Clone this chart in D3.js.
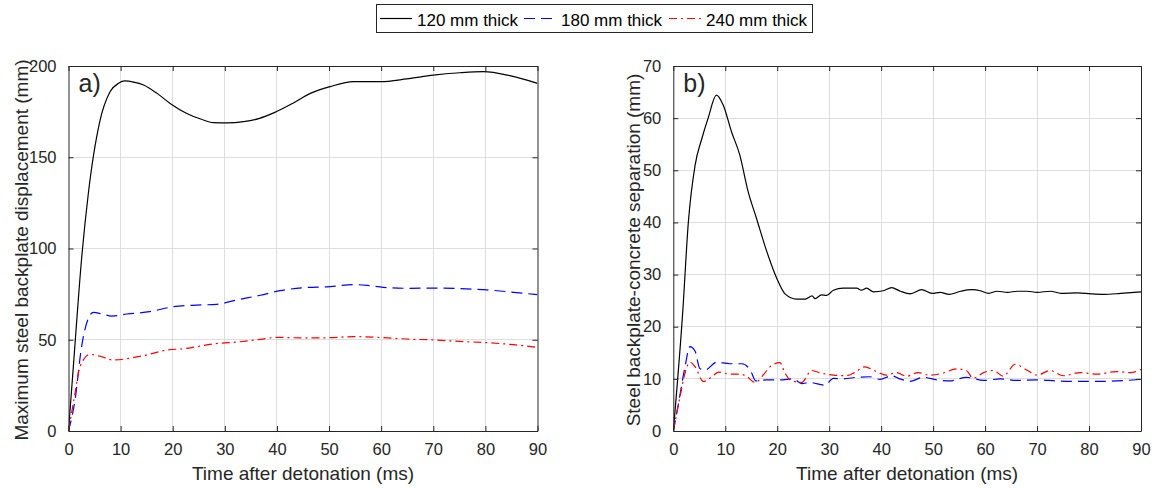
<!DOCTYPE html>
<html>
<head>
<meta charset="utf-8">
<script src="https://cdn.jsdelivr.net/npm/d3@7"></script>
<style>
  html, body { margin: 0; padding: 0; background: #fff; }
  svg { display: block; font-family: "Liberation Sans", Arial, Helvetica, sans-serif; }
</style>
</head>
<body>
<svg id="chart" width="1156" height="489"></svg>
<script>
// ---------- DATA ----------
const seriesNames = ["120 mm thick", "180 mm thick", "240 mm thick"];
const xTicks = [0, 10, 20, 30, 40, 50, 60, 70, 80, 90];
const yTicksA = [0, 50, 100, 150, 200];
const yTicksB = [0, 10, 20, 30, 40, 50, 60, 70];

// Panel a) maximum steel backplate displacement (mm)
const aTime120 = [0, 1, 2.5, 3.8, 6, 8, 9.6, 10.8, 12.5, 14.4, 17, 19.5, 22.7, 25.5, 27.8, 30.5, 33.6, 36.5, 39.6, 43, 46.4, 50.2, 54.7, 59.8, 64.9, 70, 75.1, 79.6, 84.7, 90];
const aDisp120 = [0, 38, 94, 130, 169.5, 186, 190.5, 191.8, 191.2, 189.6, 185, 179.5, 174, 170.8, 169, 168.8, 169.5, 171.2, 174.6, 179.5, 185, 188.7, 191.4, 191.4, 192.9, 195, 196.3, 196.9, 194.7, 190.5];
const aTime180 = [0, 1.25, 2.5, 3.8, 4.8, 6.5, 8.3, 11.2, 15.6, 20.1, 24.6, 28.4, 32.3, 36.8, 40.6, 45.1, 50.2, 54.7, 57.3, 60.4, 65.5, 70.6, 75.1, 80.3, 85.4, 90];
const aDisp180 = [0, 17, 46, 61.7, 65, 64, 63, 64.1, 65.4, 68.1, 69, 69.4, 71.8, 74.4, 76.9, 78.5, 79.1, 80.2, 79.8, 78.7, 78.2, 78.3, 78, 77.3, 76, 74.7];
const aTime240 = [0, 1.25, 2.2, 4.1, 6, 8.6, 12.4, 14.9, 18.2, 22.7, 27.8, 32.9, 36.8, 40, 45.1, 49.6, 54.7, 59.2, 64.9, 70, 75.1, 80.3, 85.4, 90];
const aDisp240 = [0, 20.6, 35.2, 42, 41, 38.9, 40.2, 41.6, 44, 45.3, 47.7, 48.9, 50.2, 51.3, 51, 51.1, 51.7, 51.3, 50.4, 49.9, 49.1, 48.4, 47.3, 45.8];

// Panel b) steel backplate-concrete separation (mm)
const bTime120 = [0, 1.8, 2.9, 4.2, 5.5, 6.7, 8.3, 9.6, 11.2, 12.8, 14.4, 16, 18, 19.9, 21.5, 23.7, 25.4, 26.7, 27.3, 28.5, 29.5, 30.8, 32.7, 35.3, 36.2, 37.2, 38.5, 40.4, 42, 43.7, 45.6, 47.8, 49.8, 51.4, 53, 55.3, 57.5, 59.1, 60.7, 62.3, 64.3, 66.2, 68.1, 70, 72.6, 74.6, 77.8, 80.4, 82.9, 86.1, 90];
const bSep120 = [0, 22.6, 40.1, 51, 56.1, 60, 64.4, 62.5, 57.4, 52.9, 45.9, 40.8, 34.4, 29.3, 26.3, 25.3, 25.3, 25.9, 25.4, 26.1, 26, 27, 27.4, 27.4, 27, 27.4, 26.7, 26.9, 27.5, 26.8, 26.3, 27.1, 26.4, 26.6, 26.2, 26.8, 27.1, 26.9, 26.4, 26.8, 26.6, 26.8, 26.8, 26.6, 26.8, 26.4, 26.5, 26.3, 26.2, 26.4, 26.7];
const bTime180 = [0, 1, 2.25, 3.2, 4.2, 5.1, 6.1, 8.35, 10.9, 13.2, 14.8, 15.9, 18, 20.5, 23.1, 24.7, 26.3, 29.2, 30.8, 32.7, 35.3, 37.8, 39.8, 42, 43.6, 45.5, 48.1, 50.7, 53.2, 56.4, 59.7, 62.9, 66.1, 69.9, 73.8, 77.6, 81.5, 85.3, 90];
const bSep180 = [0, 5.3, 12.3, 16.2, 15.3, 12, 11.7, 13.2, 12.9, 12.9, 11.7, 9.6, 9.8, 9.8, 10, 9.1, 9.3, 8.8, 10.1, 10, 10.3, 10.4, 9.9, 10.6, 10, 9.5, 10.3, 9.8, 9.6, 10.3, 9.7, 10, 9.7, 9.8, 9.6, 9.5, 9.5, 9.6, 9.9];
const bTime240 = [0, 1.3, 2.25, 3.2, 4.2, 5.8, 7.4, 8.7, 10.9, 12.8, 14.1, 15.7, 17.6, 18.6, 20.5, 21.5, 22.5, 24.7, 26.6, 28.5, 30.8, 33.3, 34.9, 36.8, 39.1, 41, 42.9, 44.9, 47.1, 49.3, 51.9, 54.5, 56.4, 57.7, 59.7, 61.6, 63.5, 65.8, 68, 70, 72.5, 75.1, 78.3, 81.5, 85.3, 87.9, 90];
const bSep240 = [0, 6.6, 11.1, 13.2, 12.3, 9.5, 10.4, 11.3, 10.9, 10.9, 10.5, 9.3, 11.1, 12.3, 13.1, 11.1, 9.8, 9.3, 11.6, 11.1, 10.7, 10.6, 11.2, 12.3, 11.4, 10.7, 11.2, 10.5, 11.2, 10.7, 11.1, 11.9, 11.6, 10.1, 11.2, 11.6, 10.5, 12.8, 11.7, 10.7, 11.6, 10.6, 11.2, 10.9, 11.4, 11.2, 11.8];

// ---------- STYLE ----------
const colors = ["#000000", "#0000ff", "#ff0000"];
const dashes = [null, "11,6", "8,4,2,4"];
const axisColor = "#262626";
const gridColor = "#dedede";

const svg = d3.select("#chart");

function panel(opts) {
  const x = d3.scaleLinear().domain([0, 90]).range([opts.left, opts.right]);
  const y = d3.scaleLinear().domain([0, opts.ymax]).range([opts.bottom, opts.top]);
  const g = svg.append("g");

  // grid
  g.append("g").selectAll("line.gx").data(opts.xticks.slice(1, -1)).join("line")
    .attr("x1", d => x(d)).attr("x2", d => x(d))
    .attr("y1", opts.top).attr("y2", opts.bottom)
    .attr("stroke", gridColor).attr("stroke-width", 1).attr("shape-rendering", "crispEdges");
  g.append("g").selectAll("line.gy").data(opts.yticks.slice(1, -1)).join("line")
    .attr("y1", d => y(d)).attr("y2", d => y(d))
    .attr("x1", opts.left).attr("x2", opts.right)
    .attr("stroke", gridColor).attr("stroke-width", 1).attr("shape-rendering", "crispEdges");

  // clip
  const cid = "clip" + opts.id;
  svg.append("defs").append("clipPath").attr("id", cid).append("rect")
    .attr("x", opts.left).attr("y", opts.top)
    .attr("width", opts.right - opts.left).attr("height", opts.bottom - opts.top);

  // lines
  const lines = g.append("g").attr("clip-path", `url(#${cid})`);
  opts.series.forEach((s, i) => {
    const pts = d3.zip(s[0], s[1]);
    const line = d3.line().x(d => x(d[0])).y(d => y(d[1])).curve(opts.curve);
    lines.append("path").datum(pts)
      .attr("d", line).attr("fill", "none")
      .attr("stroke", colors[i]).attr("stroke-width", 1.2)
      .attr("stroke-dasharray", dashes[i]);
  });

  // axes (ticks inward, all four sides)
  const tl = 5;
  const bottomAxis = d3.axisBottom(x).tickValues(opts.xticks).tickSizeInner(-tl).tickSizeOuter(0).tickPadding(12).tickFormat(d3.format("d"));
  const topAxis = d3.axisTop(x).tickValues(opts.xticks).tickSizeInner(-tl).tickSizeOuter(0).tickFormat("");
  const leftAxis = d3.axisLeft(y).tickValues(opts.yticks).tickSizeInner(-tl).tickSizeOuter(0).tickPadding(12).tickFormat(d3.format("d"));
  const rightAxis = d3.axisRight(y).tickValues(opts.yticks).tickSizeInner(-tl).tickSizeOuter(0).tickFormat("");

  const styleAxis = sel => {
    sel.select(".domain").attr("stroke", axisColor).attr("stroke-width", 1);
    sel.selectAll(".tick line").attr("stroke", axisColor).attr("stroke-width", 1);
    sel.selectAll(".tick text").attr("fill", axisColor).style("font-size", "16.5px")
      .style("font-family", "'Liberation Sans', Arial, sans-serif");
  };
  g.append("g").attr("transform", `translate(0,${opts.bottom})`).call(bottomAxis).call(styleAxis);
  g.append("g").attr("transform", `translate(0,${opts.top})`).call(topAxis).call(styleAxis);
  g.append("g").attr("transform", `translate(${opts.left},0)`).call(leftAxis).call(styleAxis);
  g.append("g").attr("transform", `translate(${opts.right},0)`).call(rightAxis).call(styleAxis);

  // x label
  g.append("text").attr("x", (opts.left + opts.right) / 2).attr("y", 480)
    .attr("text-anchor", "middle").attr("fill", axisColor).style("font-size", "19px")
    .text("Time after detonation (ms)");
  // y label
  g.append("text").attr("transform", `translate(${opts.ylabelX},${opts.ylabelY}) rotate(-90)`)
    .attr("text-anchor", "middle").attr("fill", axisColor).style("font-size", "19px")
    .text(opts.ylabel);
  // panel label
  g.append("text").attr("x", opts.left + 10).attr("y", 92)
    .attr("fill", axisColor).style("font-size", "25px").text(opts.tag);
}

panel({
  id: "a", left: 68.5, right: 537.5, top: 66, bottom: 431, ymax: 200,
  xticks: xTicks, yticks: yTicksA, curve: d3.curveMonotoneX,
  series: [[aTime120, aDisp120], [aTime180, aDisp180], [aTime240, aDisp240]],
  ylabel: "Maximum steel backplate displacement (mm)", ylabelX: 28, ylabelY: 250, tag: "a)"
});
panel({
  id: "b", left: 673.3, right: 1141, top: 66, bottom: 431, ymax: 70,
  xticks: xTicks, yticks: yTicksB, curve: d3.curveMonotoneX,
  series: [[bTime120, bSep120], [bTime180, bSep180], [bTime240, bSep240]],
  ylabel: "Steel backplate-concrete separation (mm)", ylabelX: 640, ylabelY: 250, tag: "b)"
});

// ---------- LEGEND ----------
const lg = svg.append("g");
lg.append("rect").attr("x", 376.5).attr("y", 4.5).attr("width", 436).attr("height", 28)
  .attr("fill", "#fff").attr("stroke", axisColor).attr("stroke-width", 1);
const sampleX = [380, 524, 669];
seriesNames.forEach((name, i) => {
  lg.append("line").attr("x1", sampleX[i]).attr("x2", sampleX[i] + 32)
    .attr("y1", 18.5).attr("y2", 18.5)
    .attr("stroke", colors[i]).attr("stroke-width", 1.2).attr("stroke-dasharray", dashes[i]);
  lg.append("text").attr("x", sampleX[i] + 37).attr("y", 25.5)
    .attr("fill", "#000").style("font-size", "17px").text(name);
});
</script>
</body>
</html>
